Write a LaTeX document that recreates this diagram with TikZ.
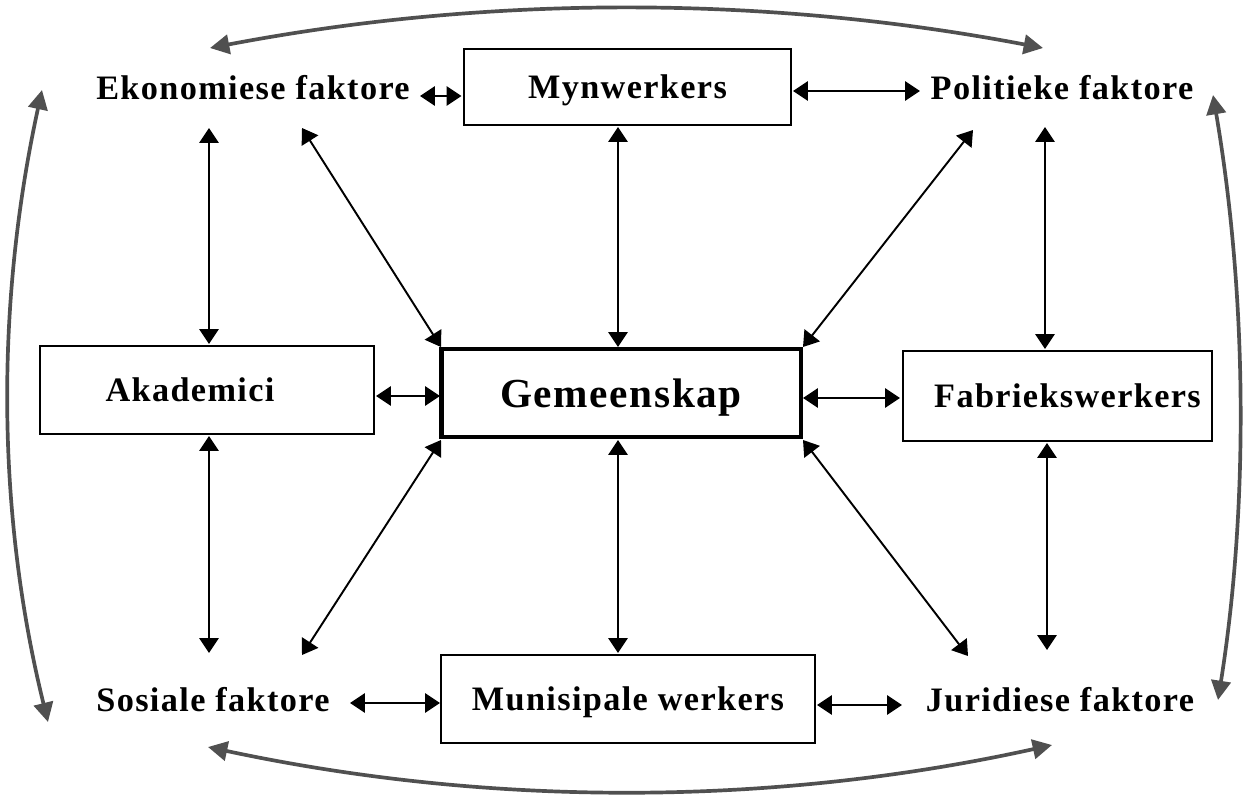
\documentclass[tikz,border=0pt]{standalone}
\usepackage{fontspec}
\setmainfont{Liberation Serif}[LetterSpace=4]
\usetikzlibrary{arrows.meta,calc}
\definecolor{curvegray}{HTML}{505050}
\tikzset{
  txt/.style={font=\fontsize{19.5}{22}\selectfont\bfseries, inner sep=0pt},
  boxed/.style={draw, line width=1.4pt, font=\fontsize{19.5}{22}\selectfont\bfseries, inner sep=0pt, text depth=0pt},
  hub/.style={draw, line width=2.8pt, font=\fontsize{23.5}{26}\selectfont\bfseries, inner sep=0pt, text depth=0pt},
  link/.style={line width=1.1pt, {Triangle[length=8.5pt,width=11pt]}-{Triangle[length=8.5pt,width=11pt]}},
  loop/.style={line width=2.1pt, color=curvegray, {Triangle[length=11pt,width=11pt]}-{Triangle[length=11pt,width=11pt]}}
}
\begin{document}
\begin{tikzpicture}[x=0.02cm,y=-0.02cm]
\useasboundingbox (0,0) rectangle (1246,797);

% outer ring of factors
\node[txt] (eko) at (253,88) {Ekonomiese faktore};
\node[txt] (pol) at (1062,88) {Politieke faktore};
\node[txt] (sos) at (213,700) {Sosiale faktore};
\node[txt] (jur) at (1060,700) {Juridiese faktore};

% groups
\node[boxed, minimum width=6.54cm, minimum height=1.52cm] (myn) at (627.5,87) {Mynwerkers};
\node[boxed, minimum width=6.68cm, minimum height=1.76cm] (aka) at (207,390) {Akademici\hspace*{0.68cm}};
\node[boxed, minimum width=6.18cm, minimum height=1.80cm] (fab) at (1057.5,396) {\hspace*{0.4cm}Fabriekswerkers};
\node[boxed, minimum width=7.48cm, minimum height=1.76cm] (mun) at (628,699) {Munisipale werkers};
\node[hub, minimum width=7.2cm, minimum height=1.76cm] (gem) at (621,393) {Gemeenskap};

% links between neighbours and to the community
\draw[link] ($(eko)+(167,8)$) -- ($(myn)+(-166,9)$);
\draw[link] ($(myn)+(165.5,4)$) -- ($(pol)+(-142,3)$);
\draw[link] ($(eko)+(-44,40)$) -- ($(aka)+(2,-46)$);
\draw[link] ($(eko)+(49,40)$) -- ($(gem)+(-180,-46)$);
\draw[link] ($(myn)+(-9.5,40)$) -- ($(gem)+(-3,-46)$);
\draw[link] ($(pol)+(-89,42)$) -- ($(gem)+(182,-46)$);
\draw[link] ($(pol)+(-17,39)$) -- ($(fab)+(-12.5,-47)$);
\draw[link] ($(aka)+(169,6)$) -- ($(gem)+(-181,3)$);
\draw[link] ($(gem)+(182,5)$) -- ($(fab)+(-157.5,2)$);
\draw[link] ($(aka)+(2,46)$) -- ($(sos)+(-4,-47)$);
\draw[link] ($(gem)+(-180,47)$) -- ($(sos)+(89,-45)$);
\draw[link] ($(gem)+(-3,47)$) -- ($(mun)+(-10,-46)$);
\draw[link] ($(gem)+(182,47)$) -- ($(jur)+(-92,-44)$);
\draw[link] ($(fab)+(-10.5,47)$) -- ($(jur)+(-13,-50)$);
\draw[link] ($(sos)+(137,3)$) -- ($(mun)+(-188,4)$);
\draw[link] ($(mun)+(189,6)$) -- ($(jur)+(-158,5)$);

% curved links around the corners
\draw[loop] ($(eko)+(-43,-40)$) .. controls ($(eko)+(235,-93)$) and ($(pol)+(-297,-93)$) .. ($(pol)+(-19,-40)$);
\draw[loop] ($(sos)+(-5,47)$) .. controls ($(sos)+(276,107)$) and ($(jur)+(-289,107)$) .. ($(jur)+(-8,45)$);
\draw[loop] ($(eko)+(-211,2)$) .. controls ($(eko)+(-257,213)$) and ($(sos)+(-217,-189)$) .. ($(sos)+(-165,22)$);
\draw[loop] ($(pol)+(151,7)$) .. controls ($(pol)+(186,213)$) and ($(jur)+(188,-189)$) .. ($(jur)+(158,0)$);
\end{tikzpicture}
\end{document}
